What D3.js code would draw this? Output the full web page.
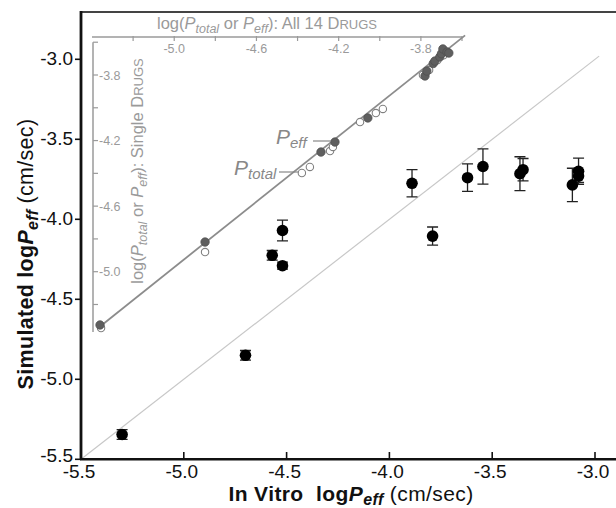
<!DOCTYPE html>
<html>
<head>
<meta charset="utf-8">
<script src="https://cdn.jsdelivr.net/npm/d3@7"></script>
<style>
  body { margin: 0; background: white; }
  svg { display: block; font-family: "Liberation Sans", Arial, sans-serif; }
</style>
</head>
<body>
<script>
// main plot: in vitro vs simulated log Peff, 14 drugs
const inVitro   = [-5.30, -4.70, -4.57, -4.52, -4.52, -3.89, -3.79, -3.62, -3.545, -3.365, -3.35, -3.11, -3.08, -3.08];
const simulated = [-5.345, -4.85, -4.225, -4.29, -4.07, -3.775, -4.105, -3.74, -3.67, -3.715, -3.69, -3.785, -3.70, -3.73];
const simErr    = [0.03, 0.03, 0.03, 0.022, 0.065, 0.085, 0.057, 0.086, 0.11, 0.106, 0.07, 0.104, 0.082, 0.04];
const mainTicks = [-5.5, -5.0, -4.5, -4.0, -3.5, -3.0];
const unityLine = [-5.5, -2.98];

// inset: all 14 drugs (x) vs single drugs (y)
const peffAll     = [-5.361, -4.850, -4.286, -4.218, -4.058, -3.780, -3.771, -3.740, -3.732, -3.708, -3.700, -3.693, -3.673, -3.664];
const peffSingle  = [-5.325, -4.819, -4.270, -4.209, -4.062, -3.806, -3.776, -3.730, -3.715, -3.690, -3.670, -3.641, -3.660, -3.666];
const ptotAll     = [-5.356, -4.850, -4.379, -4.340, -4.242, -4.228, -4.096, -4.019, -3.985, -3.790, -3.760, -3.720, -3.690, -3.670];
const ptotSingle  = [-5.344, -4.880, -4.398, -4.361, -4.264, -4.239, -4.087, -4.032, -4.007, -3.800, -3.770, -3.710, -3.680, -3.660];
const fitX = [-5.37, -3.585];
const fitY = [-5.343, -3.558];
const insetXTicks = [-5.2, -5.0, -4.8, -4.6, -4.4, -4.2, -4.0, -3.8, -3.6];
const insetXLabels = [-5.0, -4.6, -4.2, -3.8];
const insetYTicks = [-3.6, -3.8, -4.0, -4.2, -4.4, -4.6, -4.8, -5.0, -5.2];
const insetYLabels = [-3.8, -4.2, -4.6, -5.0];

const W = 616, H = 508;
const svg = d3.select("body").append("svg").attr("width", W).attr("height", H);

const x = d3.scaleLinear().domain([-5.5, -3.0]).range([81, 595]);
const y = d3.scaleLinear().domain([-5.5, -3.0]).range([459.3, 59.3]);
const fmt = d3.format(".1f");
const minus = v => fmt(v).replace("−", "-");

// unity line
svg.append("line")
  .attr("x1", x(unityLine[0])).attr("y1", y(unityLine[0]))
  .attr("x2", x(unityLine[1])).attr("y2", y(unityLine[1]))
  .attr("stroke", "#c8c8c8").attr("stroke-width", 1.2);

// frame
svg.append("line").attr("x1", 80).attr("x2", W).attr("y1", 12).attr("y2", 12)
  .attr("stroke", "#444").attr("stroke-width", 2);
svg.append("line").attr("x1", 81).attr("x2", 81).attr("y1", 11).attr("y2", 460)
  .attr("stroke", "#111").attr("stroke-width", 2.8);
svg.append("line").attr("x1", 80).attr("x2", W).attr("y1", 459.3).attr("y2", 459.3)
  .attr("stroke", "#111").attr("stroke-width", 2.6);

// main ticks
const mg = svg.append("g").attr("fill", "#111").style("font-size", "19px");
mg.selectAll(".yt").data(mainTicks).join("line")
  .attr("x1", 75).attr("x2", 81).attr("y1", d => y(d)).attr("y2", d => y(d))
  .attr("stroke", "#111").attr("stroke-width", 1.6);
mg.selectAll(".yl").data(mainTicks).join("text")
  .attr("x", 73).attr("y", d => y(d) - (d === -5.5 ? 4 : 1)).attr("dy", "0.36em")
  .attr("text-anchor", "end").text(minus);
mg.selectAll(".xt").data(mainTicks.slice(1)).join("line")
  .attr("x1", d => x(d)).attr("x2", d => x(d)).attr("y1", 452).attr("y2", 459)
  .attr("stroke", "#111").attr("stroke-width", 1.6);
mg.selectAll(".xl").data(mainTicks).join("text")
  .attr("x", d => x(d) - 2).attr("y", 478)
  .attr("text-anchor", "middle").text(minus);

// axis titles
const xt = svg.append("text").attr("x", 351).attr("y", 501).attr("text-anchor", "middle")
  .attr("fill", "#111").style("font-size", "21px").style("letter-spacing", "0.4px");
xt.append("tspan").attr("font-weight", "bold").text("In Vitro\u00a0\u00a0log");
xt.append("tspan").attr("font-weight", "bold").attr("font-style", "italic").text("P");
xt.append("tspan").attr("font-weight", "bold").attr("font-style", "italic")
  .style("font-size", "16px").attr("dy", 4).text("eff");
xt.append("tspan").attr("dy", -4).text(" (cm/sec)");

const yt = svg.append("text").attr("transform", "translate(33,254) rotate(-90)")
  .attr("text-anchor", "middle").attr("fill", "#111").style("font-size", "21.5px")
  .style("letter-spacing", "0.3px");
yt.append("tspan").attr("font-weight", "bold").text("Simulated log");
yt.append("tspan").attr("font-weight", "bold").attr("font-style", "italic").text("P");
yt.append("tspan").attr("font-weight", "bold").attr("font-style", "italic")
  .style("font-size", "16px").attr("dy", 5).text("eff");
yt.append("tspan").attr("dy", -5).text(" (cm/sec)");

// ---- inset ----
const ix = d3.scaleLinear().domain([-5.4, -3.6]).range([92, 462]);
const iy = d3.scaleLinear().domain([-3.8, -5.0]).range([75, 271.7]);
const gray = "#9a9a9a";
const ig = svg.append("g").style("font-size", "12.5px").attr("fill", gray);

ig.append("line").attr("x1", 92).attr("x2", ix(-3.6)).attr("y1", 37).attr("y2", 37)
  .attr("stroke", gray).attr("stroke-width", 1.5);
ig.selectAll(".ixt").data(insetXTicks).join("line")
  .attr("x1", d => ix(d)).attr("x2", d => ix(d)).attr("y1", 36).attr("y2", 41)
  .attr("stroke", gray).attr("stroke-width", 1.2);
ig.selectAll(".ixl").data(insetXLabels).join("text")
  .attr("x", d => ix(d)).attr("y", 53).attr("text-anchor", "middle").text(minus);

ig.append("line").attr("x1", 93).attr("x2", 93).attr("y1", iy(-3.6)).attr("y2", 332)
  .attr("stroke", gray).attr("stroke-width", 1.5);
ig.selectAll(".iyt").data(insetYTicks).join("line")
  .attr("x1", 93).attr("x2", 98).attr("y1", d => iy(d)).attr("y2", d => iy(d))
  .attr("stroke", gray).attr("stroke-width", 1.2);
ig.selectAll(".iyl").data(insetYLabels).join("text")
  .attr("x", 99).attr("y", d => iy(d)).attr("dy", "0.36em").text(minus);

// inset titles
function insetTitle(t, tail) {
  t.append("tspan").text("log(");
  t.append("tspan").attr("font-style", "italic").text("P");
  t.append("tspan").attr("font-style", "italic").style("font-size", "12.5px").attr("dy", 4).text("total");
  t.append("tspan").attr("dy", -4).text(" or ");
  t.append("tspan").attr("font-style", "italic").text("P");
  t.append("tspan").attr("font-style", "italic").style("font-size", "12.5px").attr("dy", 4).text("eff");
  t.append("tspan").attr("dy", -4).text("): " + tail + "D");
  t.append("tspan").style("font-size", "13px").text("RUGS");
}
insetTitle(ig.append("text").attr("x", 267).attr("y", 29).attr("text-anchor", "middle")
  .style("font-size", "16.5px"), "All 14 ");
insetTitle(ig.append("text").attr("transform", "translate(143,171) rotate(-90)")
  .attr("text-anchor", "middle").style("font-size", "16.5px"), "Single ");

// fit line
ig.append("line")
  .attr("x1", ix(fitX[0])).attr("y1", iy(fitY[0]))
  .attr("x2", ix(fitX[1])).attr("y2", iy(fitY[1]))
  .attr("stroke", "#8c8c8c").attr("stroke-width", 1.8);

// inset points
ig.selectAll(".ptot").data(ptotAll).join("circle")
  .attr("cx", d => ix(d)).attr("cy", (d, i) => iy(ptotSingle[i])).attr("r", 3.7)
  .attr("fill", "white").attr("stroke", "#808080").attr("stroke-width", 1.1);
ig.selectAll(".peff").data(peffAll).join("circle")
  .attr("cx", d => ix(d)).attr("cy", (d, i) => iy(peffSingle[i])).attr("r", 4.2)
  .attr("fill", "#5f5f5f").attr("stroke", "#505050").attr("stroke-width", 0.8);

// labels with leaders
const le = ig.append("text").attr("x", 276).attr("y", 144).attr("fill", "#888").style("font-size", "21px");
le.append("tspan").attr("font-style", "italic").text("P");
le.append("tspan").attr("font-style", "italic").style("font-size", "15px").attr("dy", 4).text("eff");
ig.append("line").attr("x1", 313).attr("x2", ix(peffAll[3]) - 4).attr("y1", 141).attr("y2", 141)
  .attr("stroke", "#888").attr("stroke-width", 1.2);
const lt = ig.append("text").attr("x", 234).attr("y", 175).attr("fill", "#888").style("font-size", "21px");
lt.append("tspan").attr("font-style", "italic").text("P");
lt.append("tspan").attr("font-style", "italic").style("font-size", "15px").attr("dy", 4).text("total");
ig.append("line").attr("x1", 279).attr("x2", ix(ptotAll[2]) - 3).attr("y1", 172).attr("y2", 172)
  .attr("stroke", "#888").attr("stroke-width", 1.2);

// main points with error bars
const pg = svg.append("g");
const idx = d3.range(inVitro.length);
pg.selectAll(".eb").data(idx).join("path")
  .attr("d", i => {
    const cx = x(inVitro[i]), y0 = y(simulated[i] - simErr[i]), y1 = y(simulated[i] + simErr[i]);
    return `M${cx - 5.5},${y0}H${cx + 5.5}M${cx - 5.5},${y1}H${cx + 5.5}M${cx},${y0}V${y1}`;
  })
  .attr("stroke", "#222").attr("stroke-width", 1.3).attr("fill", "none");
pg.selectAll(".pt").data(idx).join("circle")
  .attr("cx", i => x(inVitro[i])).attr("cy", i => y(simulated[i])).attr("r", 5.8)
  .attr("fill", "#000");
</script>
</body>
</html>
